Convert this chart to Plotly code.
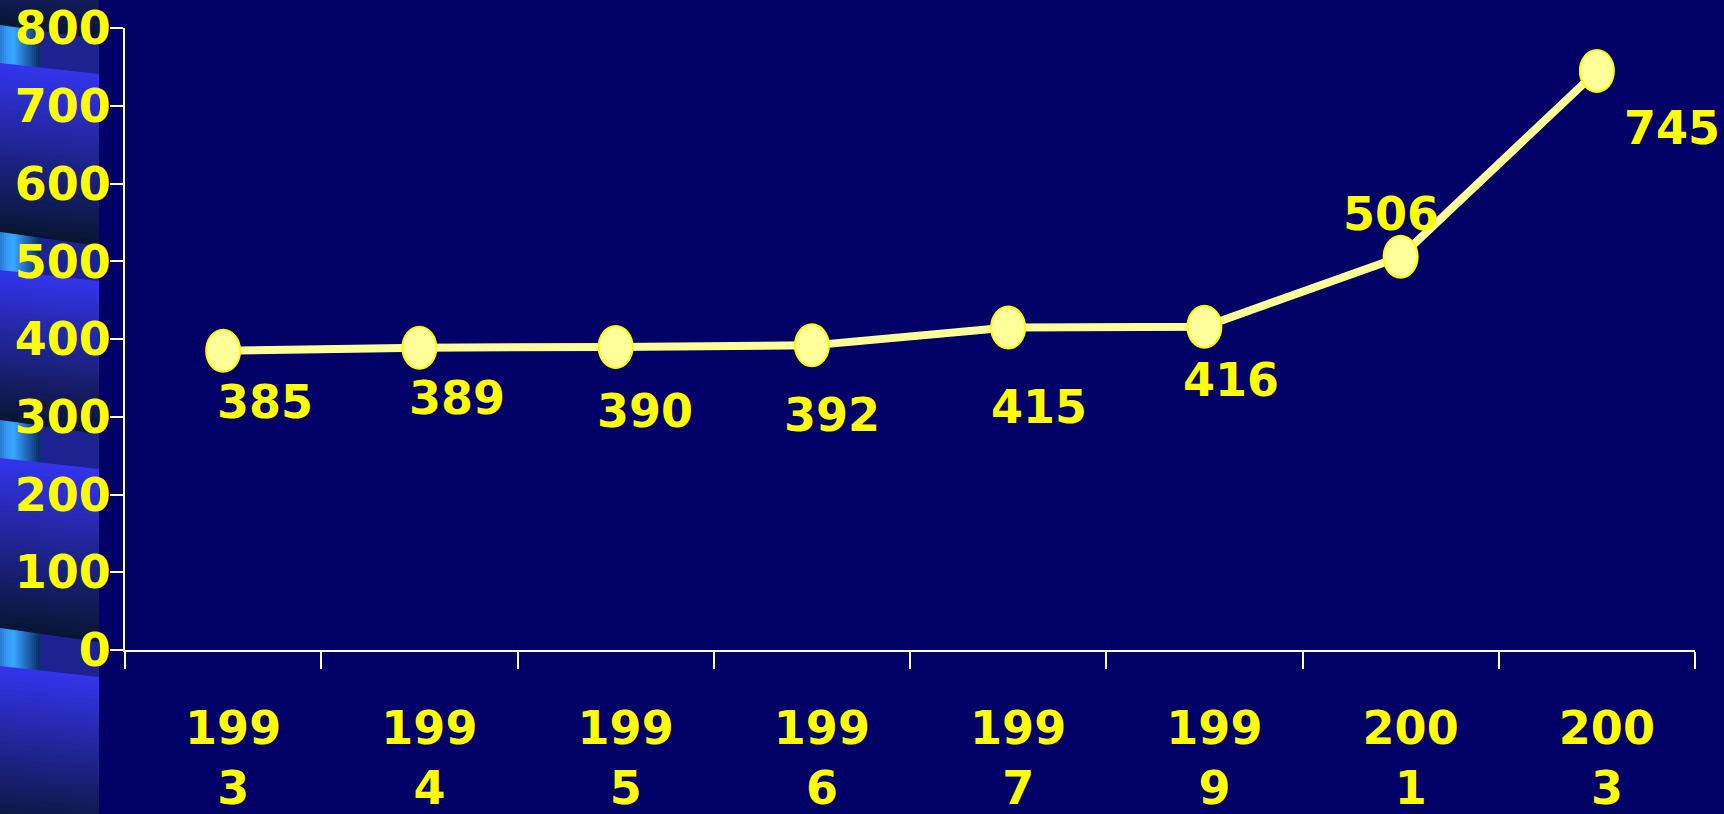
import plotly.graph_objects as go

# ---------------- data ----------------
years = ["1993", "1994", "1995", "1996", "1997", "1999", "2001", "2003"]
tick_labels = ["199<br>3", "199<br>4", "199<br>5", "199<br>6", "199<br>7",
               "199<br>9", "200<br>1", "200<br>3"]
values = [385, 389, 390, 392, 415, 416, 506, 745]
y_ticks = [0, 100, 200, 300, 400, 500, 600, 700, 800]

# value-label offsets (pixels) relative to each point
label_dx = [42, 38, 29, 20, 31, 27, -10, 75]
label_dy = [-51, -50, -64, -70, -80, -53, 43, -57]

# ---------------- styling ----------------
W, H = 1724, 814
BG = "#000066"
YELLOW = "#FFFF00"
LINE_YEL = "#FFFF99"
AXIS_COL = "#FFFFCC"
FONT = dict(family="DejaVu Sans", size=46, color=YELLOW, weight="bold")

PLOT_L, PLOT_R, PLOT_T, PLOT_B = 125, 1695, 28.3, 650


def fx(x):
    return x / W


def fy(y):
    return 1 - y / H


def lerp(c1, c2, t):
    t = max(0.0, min(1.0, t))
    return "rgb(%d,%d,%d)" % tuple(round(a + (b - a) * t) for a, b in zip(c1, c2))


def slanted(x0, x1, top, bot, slope_top, slope_bot, color, strip_w=99.0):
    yt0 = top + slope_top * x0 / strip_w
    yt1 = top + slope_top * x1 / strip_w
    yb0 = bot + slope_bot * x0 / strip_w
    yb1 = bot + slope_bot * x1 / strip_w
    path = "M %f,%f L %f,%f L %f,%f L %f,%f Z" % (
        fx(x0), fy(yt0), fx(x1), fy(yt1), fx(x1), fy(yb1), fx(x0), fy(yb0))
    return dict(type="path", xref="paper", yref="paper", path=path,
                fillcolor=color, line=dict(width=0), layer="below")


# ---------------- left decorative strip ----------------
STRIP_W = 99
band_tops = [-175, 25, 232, 420, 628, 830]
BAND_H = 38
SLOPE_T = 14
SLOPE_B = 11
BRIGHT = (52, 52, 238)
DARK = (8, 20, 46)

shapes = []
for i in range(len(band_tops) - 1):
    start = band_tops[i] + BAND_H - 2
    end = band_tops[i + 1] + 4
    y = start
    step = 3
    while y < end:
        if y + step > -20 and y < H + 20:
            t = (y - start) / (end - start)
            shapes.append(slanted(0, STRIP_W, y, y + step + 1, SLOPE_B, SLOPE_B,
                                  lerp(BRIGHT, DARK, t)))
        y += step

cyan_stops = [(0, (40, 120, 210)), (8, (55, 158, 250)), (14, (58, 165, 255)),
              (26, (34, 108, 190)), (40, (8, 45, 92))]


def cyan_at(x):
    for (xa, ca), (xb, cb) in zip(cyan_stops[:-1], cyan_stops[1:]):
        if xa <= x <= xb:
            return lerp(ca, cb, (x - xa) / (xb - xa))
    return lerp(cyan_stops[-1][1], cyan_stops[-1][1], 0)


for top in band_tops[1:-1]:
    bot = top + BAND_H
    shapes.append(slanted(40, STRIP_W, top, bot, SLOPE_T, SLOPE_B, "rgb(28,34,146)"))
    x = 0
    while x < 40:
        shapes.append(slanted(x, x + 2.5, top, bot, SLOPE_T, SLOPE_B, cyan_at(x + 1)))
        x += 2

# ellipse markers anchored to the data (category index, value)
for i, v in enumerate(values):
    shapes.append(dict(type="circle", xref="x", yref="y", xsizemode="pixel",
                       ysizemode="pixel", xanchor=i, yanchor=v,
                       x0=-17, x1=17, y0=-21, y1=21,
                       fillcolor=LINE_YEL, line=dict(color=YELLOW, width=2),
                       layer="above"))

# ---------------- figure ----------------
fig = go.Figure()
fig.add_trace(go.Scatter(
    x=years, y=values, mode="lines+markers",
    line=dict(color=LINE_YEL, width=8),
    marker=dict(size=32, color=LINE_YEL, line=dict(color=YELLOW, width=2)),
    hoverinfo="skip", showlegend=False,
))

annotations = []
for i, v in enumerate(values):
    annotations.append(dict(x=i, y=v, xref="x", yref="y", text=str(v),
                            showarrow=False, xshift=label_dx[i], yshift=label_dy[i],
                            font=FONT))

fig.update_layout(
    width=W, height=H,
    margin=dict(l=0, r=0, t=0, b=0, autoexpand=False),
    paper_bgcolor=BG, plot_bgcolor=BG,
    shapes=shapes, annotations=annotations,
    showlegend=False,
    xaxis=dict(
        domain=[fx(PLOT_L), fx(PLOT_R)], automargin=False,
        type="category", range=[-0.5, len(years) - 0.5],
        tickmode="array", tickvals=years, ticktext=tick_labels,
        tickson="boundaries", ticks="outside", ticklen=17, tickwidth=2,
        tickcolor=AXIS_COL, showline=True, linecolor=AXIS_COL, linewidth=2,
        showgrid=False, zeroline=False, tickfont=FONT,
        ticklabelshift=10, ticklabelstandoff=37,
    ),
    yaxis=dict(
        domain=[fy(PLOT_B), fy(PLOT_T)], automargin=False,
        range=[0, 800], tickvals=y_ticks,
        ticks="outside", ticklen=13, tickwidth=2, tickcolor=AXIS_COL,
        showline=True, linecolor=AXIS_COL, linewidth=2,
        showgrid=False, zeroline=False, tickfont=FONT,
        ticklabelstandoff=-10,
    ),
)

fig.write_html("out.html")
